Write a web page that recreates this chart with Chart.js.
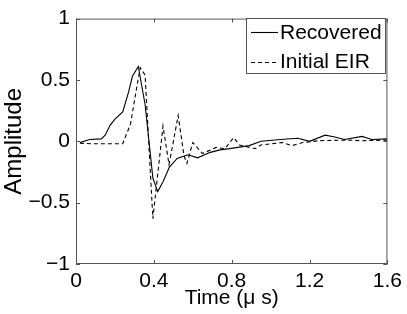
<!DOCTYPE html>
<html>
<head>
<meta charset="utf-8">
<script src="https://cdn.jsdelivr.net/npm/chart.js@4/dist/chart.umd.min.js"></script>
<style>
html,body{margin:0;padding:0;background:#fff;}
#wrap{width:407px;height:314px;}
</style>
</head>
<body>
<div id="wrap"><canvas id="c" width="407" height="314"></canvas></div>
<script>
const seriesNames = ["Recovered", "Initial EIR"];
const xTicks = [0, 0.4, 0.8, 1.2, 1.6];
const yTicks = [-1, -0.5, 0, 0.5, 1];

const recoveredT = [0.02,0.07,0.13,0.15,0.175,0.20,0.24,0.27,0.29,0.32,0.355,0.395,0.42,0.447,0.48,0.52,0.575,0.625,0.69,0.74,0.79,0.89,0.95,1.05,1.14,1.2,1.28,1.33,1.38,1.47,1.52,1.6];
const recoveredY = [-0.01,0.015,0.02,0.05,0.13,0.18,0.24,0.40,0.53,0.61,0.30,-0.30,-0.41,-0.33,-0.21,-0.14,-0.11,-0.135,-0.09,-0.07,-0.06,-0.035,0.0,0.015,0.025,0.0,0.05,0.035,0.015,0.04,0.015,0.02];

const initialT = [0.02,0.08,0.24,0.28,0.31,0.33,0.355,0.395,0.447,0.478,0.525,0.555,0.57,0.60,0.65,0.72,0.765,0.81,0.84,0.92,0.95,1.06,1.11,1.165,1.25,1.39,1.47,1.6];
const initialY = [-0.015,-0.02,-0.02,0.14,0.42,0.60,0.54,-0.63,0.125,-0.19,0.21,-0.12,-0.18,-0.01,-0.10,-0.05,-0.06,0.03,-0.03,-0.06,-0.03,-0.01,-0.035,-0.01,0.005,0.01,0.005,0.01];

function pts(t, y){ return t.map((v,i)=>({x:v, y:y[i]})); }

const FONT = "'Liberation Sans', Arial, Helvetica, sans-serif";
const AXC = '#555';

const framePlugin = {
  id: 'frame',
  afterDatasetsDraw(chart){
    const {ctx, chartArea:a, scales} = chart;
    ctx.save();
    ctx.strokeStyle = AXC;
    ctx.lineWidth = 1;
    ctx.strokeRect(a.left+0.5, a.top+0.5, a.right-a.left-1, a.bottom-a.top-1);
    const L = 4;
    ctx.beginPath();
    xTicks.forEach(v=>{
      const px = Math.round(scales.x.getPixelForValue(v))+0.5;
      ctx.moveTo(px, a.bottom); ctx.lineTo(px, a.bottom-L);
      ctx.moveTo(px, a.top); ctx.lineTo(px, a.top+L);
    });
    yTicks.forEach(v=>{
      const py = Math.round(scales.y.getPixelForValue(v))+0.5;
      ctx.moveTo(a.left, py); ctx.lineTo(a.left+L, py);
      ctx.moveTo(a.right, py); ctx.lineTo(a.right-L, py);
    });
    ctx.stroke();
    // legend
    const bx=246, by=18, bw=139, bh=55;
    ctx.fillStyle='#fff';
    ctx.fillRect(bx,by,bw,bh);
    ctx.strokeStyle=AXC;
    ctx.strokeRect(bx+0.5,by+0.5,bw,bh);
    ctx.strokeStyle='#000';
    ctx.lineWidth=1.1;
    ctx.beginPath(); ctx.moveTo(251,32.5); ctx.lineTo(278,32.5); ctx.stroke();
    ctx.setLineDash([4,3]);
    ctx.beginPath(); ctx.moveTo(251,62.5); ctx.lineTo(278,62.5); ctx.stroke();
    ctx.setLineDash([]);
    ctx.fillStyle='#000';
    ctx.font = "21px " + FONT;
    ctx.textBaseline='middle';
    ctx.textAlign='left';
    ctx.fillText(seriesNames[0], 280, 33);
    ctx.fillText(seriesNames[1], 280, 62);
    ctx.restore();
  }
};

new Chart(document.getElementById('c'), {
  type: 'scatter',
  data: {
    datasets: [
      {label: seriesNames[0], data: pts(recoveredT, recoveredY), showLine:true, borderColor:'#000', borderWidth:1.1, pointRadius:0, tension:0, fill:false},
      {label: seriesNames[1], data: pts(initialT, initialY), showLine:true, borderColor:'#000', borderWidth:1.1, borderDash:[4,3], pointRadius:0, tension:0, fill:false}
    ]
  },
  options: {
    responsive:false,
    animation:false,
    events:[],
    layout:{padding:{top:14,right:19,left:0,bottom:0}},
    plugins:{legend:{display:false}, tooltip:{enabled:false}},
    scales:{
      x:{
        type:'linear', min:0, max:1.6,
        afterBuildTicks(s){ s.ticks = xTicks.map(v=>({value:v})); },
        afterFit(s){ s.height = 50; },
        grid:{display:false, drawTicks:false},
        border:{display:false},
        ticks:{color:'#000', font:{family:FONT, size:21}, padding:5, maxRotation:0, autoSkip:false,
          callback:(v)=> String(v)},
        title:{display:true, text:'Time (\u03bc s)', color:'#000', font:{family:FONT, size:21}, padding:{top:0,bottom:3}}
      },
      y:{
        type:'linear', min:-1, max:1,
        afterBuildTicks(s){ s.ticks = yTicks.map(v=>({value:v})); },
        afterFit(s){ s.width = 76; },
        grid:{display:false, drawTicks:false},
        border:{display:false},
        ticks:{color:'#000', font:{family:FONT, size:21}, padding:6, autoSkip:false,
          callback:(v)=> (v<0 ? '\u2212'+String(-v) : String(v))},
        title:{display:true, text:'Amplitude', color:'#000', font:{family:FONT, size:24}, padding:{top:0,bottom:0}}
      }
    }
  },
  plugins:[framePlugin]
});
</script>
</body>
</html>
